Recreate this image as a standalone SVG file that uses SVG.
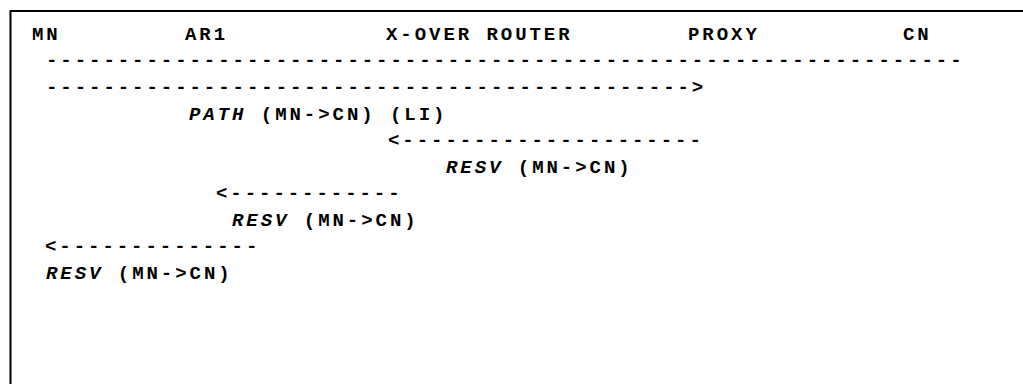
<svg xmlns="http://www.w3.org/2000/svg" width="1023" height="384" viewBox="0 0 1023 384">
<style>
text{font-family:"Liberation Mono","DejaVu Sans Mono",monospace;font-size:19px;font-weight:bold;letter-spacing:2.95px;fill:#000}
.i{font-style:italic}
</style>
<rect width="1023" height="384" fill="#fff"/>
<path d="M10.5,384 V11 H1023" fill="none" stroke="#000" stroke-width="2"/>
<g id="node-mn"><text x="32" y="40">MN</text></g>
<g id="node-ar1"><text x="185" y="40">AR1</text></g>
<g id="node-xover"><text x="386" y="40">X-OVER ROUTER</text></g>
<g id="node-proxy"><text x="688" y="40">PROXY</text></g>
<g id="node-cn"><text x="903" y="40">CN</text></g>
<g id="connectors">
<text x="46" y="66">----------------------------------------------------------------</text>
<text x="46" y="93">---------------------------------------------&gt;</text>
<text x="388" y="146">&lt;---------------------</text>
<text x="216" y="199">&lt;------------</text>
<text x="45" y="252">&lt;--------------</text>
</g>
<g id="labels">
<text x="189" y="120"><tspan class="i">PATH</tspan> (MN-&gt;CN) (LI)</text>
<text x="446" y="173"><tspan class="i">RESV</tspan> (MN-&gt;CN)</text>
<text x="232" y="226"><tspan class="i">RESV</tspan> (MN-&gt;CN)</text>
<text x="46" y="279"><tspan class="i">RESV</tspan> (MN-&gt;CN)</text>
</g>
</svg>
